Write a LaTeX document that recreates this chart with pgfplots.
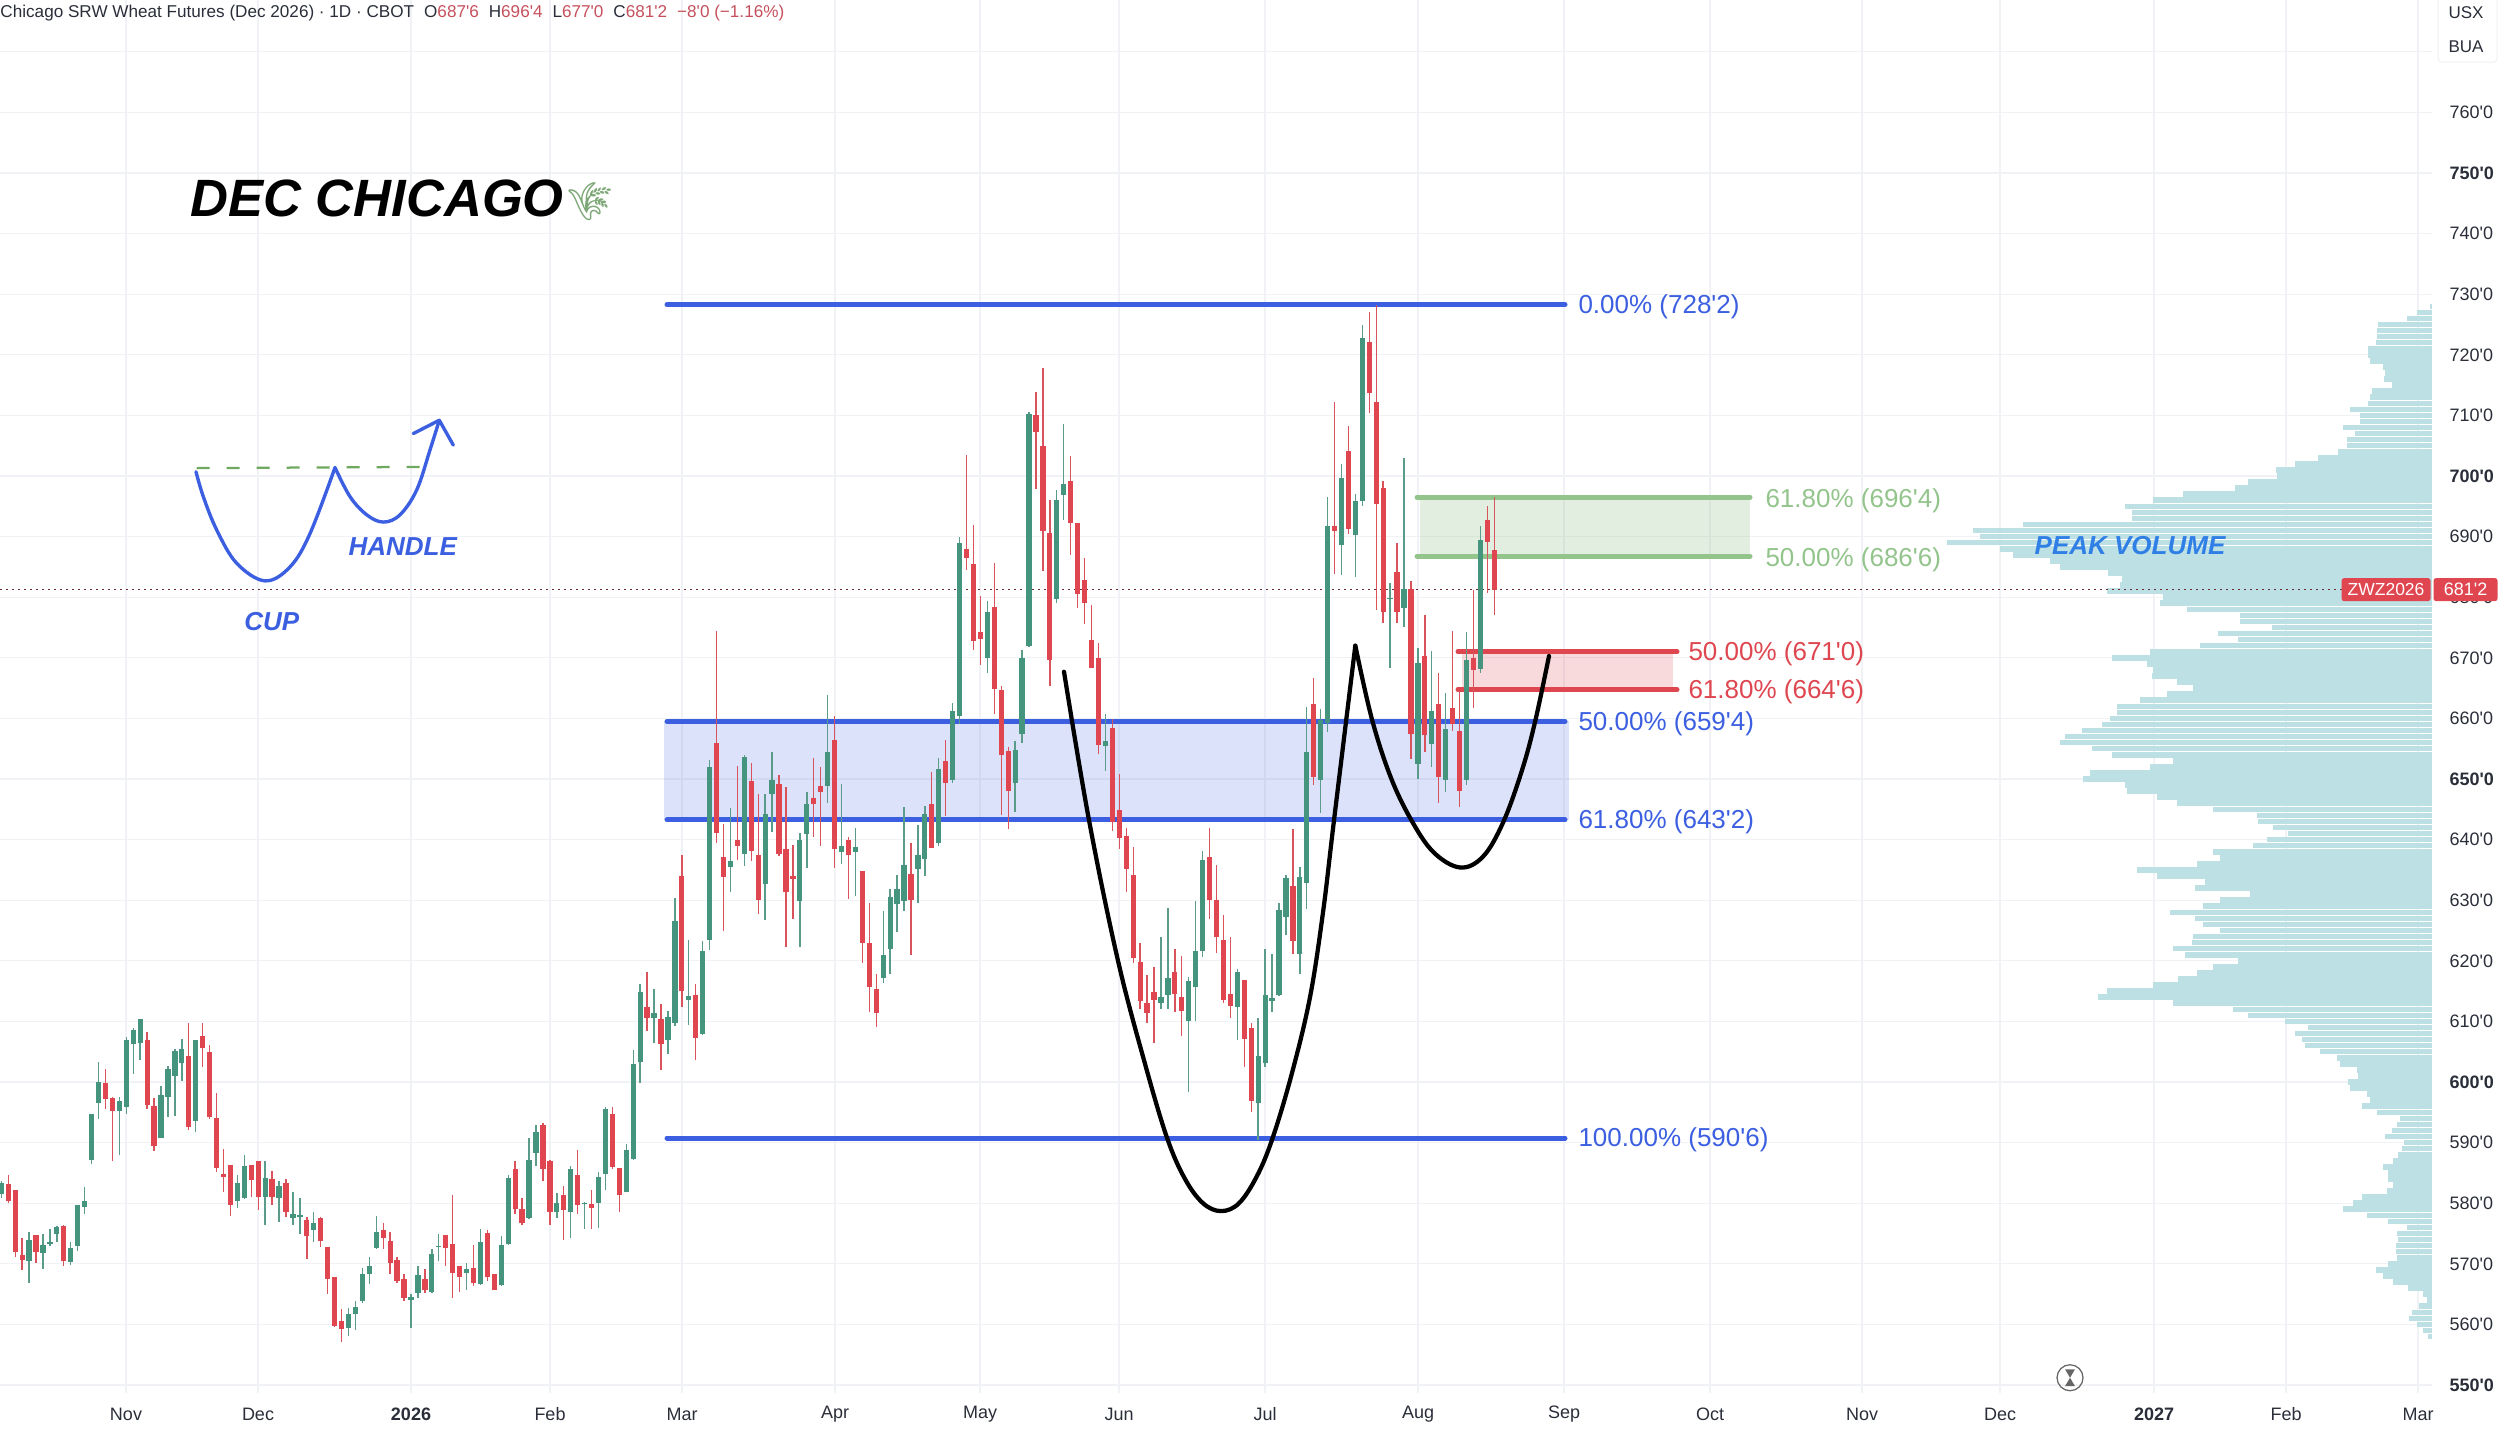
\documentclass[border=0pt]{standalone}
\usepackage{pgfplots}
\usepackage{pgfplotstable}
\usepackage{fontspec}
\pgfplotsset{compat=1.18}
\setmainfont{Liberation Sans}[Ligatures=TeXOff]
\newfontfamily\emojifont{Noto Emoji}
\definecolor{cgreen}{HTML}{45947D}
\definecolor{cred}{HTML}{E04650}
\definecolor{wgreen}{HTML}{5A9C89}
\definecolor{wred}{HTML}{D9535C}
\definecolor{fibblue}{HTML}{3B5FE0}
\definecolor{fibgreen}{HTML}{93C48C}
\definecolor{fibred}{HTML}{DE4650}
\definecolor{prof}{HTML}{BCE0E3}
\definecolor{gridc}{HTML}{F0F2F5}
\definecolor{txtc}{HTML}{2A2E39}
\definecolor{hdred}{HTML}{C6505C}
\definecolor{dashgreen}{HTML}{6FA85F}

\pgfplotstableread{
i hi top bot lo
0 583.7 583.4 581.6 580.8
4 575.3 573.9 570.4 566.9
6 575 573.1 571.8 569.2
7 575.8 573.6 573.3 572.9
8 576.2 576.1 575 573.6
10 573.6 572.6 570.3 569.8
11 579.7 579.7 572.9 572.1
12 582.6 580.3 579.3 578.2
13 594.8 594.8 587.2 586.4
14 603.3 600 596.5 593.9
17 597.5 596.8 595.2 587.9
18 607.5 606.9 595.8 594.7
19 608.9 608.6 606.2 601.4
20 610.4 610.4 606.5 603.6
23 599.4 597.8 590.7 590.7
24 602.6 602.1 597.5 594.2
25 605.4 605.2 601 594.4
26 607.1 605.4 603.2 600.1
28 606.9 606.9 593.6 591.8
34 584.6 583.4 580.4 579.2
35 587.9 586.1 580.8 580.7
38 586.9 584.2 581.1 576.4
40 583.6 582.8 580.8 576.9
42 581.8 578.2 577.5 576.4
43 580.8 578 577.8 574.9
45 578.5 576.8 575.6 573.6
50 562.7 561.8 559.4 558.1
51 563.8 562.8 561.8 559.1
52 569.3 568.3 563.8 563.6
53 571.1 569.7 568.3 566.7
54 577.9 575.3 572.6 572.5
59 565.1 564.6 564.1 559.4
60 569.6 568.1 565.2 564.4
62 572.5 571.6 565.3 565.2
63 575 573 572.8 570.4
67 570.1 569.1 568.5 565.7
69 575.7 573.6 566.7 566.6
72 574.6 573.1 566.5 566.4
73 584.6 584.1 573.2 573.1
76 590.8 587.1 577.5 577.4
77 592.9 591.8 588.3 586.2
80 581.7 580.1 578.5 577.5
82 586.1 585.7 578.5 574.3
84 580.2 580 579.8 575.8
86 585.1 584.3 580.1 575.9
87 595.8 595.6 584.8 582.1
90 589.7 588.8 581.8 581.8
91 605.3 602.9 587.3 587.2
92 616.1 614.9 603.3 599.9
94 615.3 611.4 610.6 606.4
96 611.7 610.7 606.9 604.7
97 630.4 626.6 609.8 609.2
99 623.4 614.2 613.6 609.4
101 623.2 621.7 607.9 607.8
102 653.1 651.9 623.5 621.8
105 645.2 636.4 635.5 631.4
107 654 653.7 637.6 635.7
110 647.6 644.2 632.7 626.7
111 654.4 649.9 647.6 641.2
115 641.1 639.9 629.9 622.2
116 647.9 645.9 640.9 635.3
119 663.9 654.4 648.9 646
121 649.2 639 637.9 635.9
123 641.9 638.7 637.9 630.7
127 628.2 620.9 617.1 616.4
128 631.8 630.5 621.9 617.9
129 634.2 631.9 629.4 624.7
130 645.4 635.8 629.9 628.3
132 642.4 637.4 635.2 629.6
133 645.6 644.3 636.8 634
135 653.4 651.6 639.4 638.9
137 662.6 661.2 649.8 649.4
138 690 689 660.4 659.1
142 679.4 677.5 669.9 667.5
146 656.3 654.8 649.3 644.6
147 671.3 669.9 657.4 655.9
148 710.6 710.2 672 671.8
152 697.7 696.1 679.7 679
153 708.6 698.6 696.9 692.7
159 660.7 656.3 655.4 651.4
167 624 614.1 613.1 612.1
168 628.7 617.2 614.4 612.1
171 617.4 616.6 610.1 598.4
172 629.9 621.7 615.6 610
173 638.1 636.6 621.7 620.7
178 618.6 618.1 612.3 607
181 610.6 604.3 596.6 590.5
182 621.9 614.3 603.2 602.5
183 621.1 613.9 613.3 611.5
184 629.6 628.4 614.3 614.2
185 634.2 633.6 627.2 624.2
187 635.4 633.9 621.1 617.9
188 661.9 654.4 632.8 628.5
190 661.6 659.7 649.9 644.4
191 696.6 691.8 659.3 657.7
193 701.9 699.7 688.6 683.6
195 697 695.9 690.3 683.3
196 725 722.7 695.9 695.1
200 682.4 679.9 679.7 668.4
202 703 681.4 678.2 675.1
204 671.6 669.1 652.5 650
206 671.1 661.2 655.8 652
208 664.2 658.2 649.9 647.8
211 674.2 669.7 649.9 649
213 691.8 689.4 668.1 667.5
}\greenbars

\pgfplotstableread{
i hi top bot lo
1 584.6 583.1 580.3 580.1
2 582.1 582.1 571.9 571.1
3 574.3 571.4 570.7 568.9
5 574.8 574.8 571.9 570.1
9 576.4 576.2 570.4 569.6
15 602.1 599.8 597.2 595.6
16 597.5 597.3 595.2 586.9
21 608.3 606.9 596.2 595.6
22 597.3 596.1 589.4 588.6
27 609.8 604.3 592.5 592.1
29 609.8 607.6 605.6 602.5
30 606.1 604.9 594.2 593.9
31 598.2 594.1 585.8 585.1
32 588.9 584.8 584.3 581.8
33 586.3 586.3 579.7 577.9
36 586.3 586.3 583.8 581.1
37 586.9 586.9 581.1 578.9
39 585.3 584 581.1 579.7
41 584 583.4 578.5 577.7
44 577.8 577.3 574.6 570.8
46 577.8 577.6 573.8 572.7
47 572.8 572.7 567.5 565.1
48 567.9 567.9 559.7 559.6
49 562.5 560.6 559.3 557.1
55 576.8 575.6 574.2 572.5
56 575.3 573.8 570.1 568.3
57 571.1 570.6 567.2 566.8
58 568.3 567.5 564.4 563.9
61 569.1 567.5 565.6 565.2
64 574.8 574.8 572.6 569.6
65 581.4 573.3 568.5 564.4
66 569.7 569.6 567.8 565.3
68 573.1 569.3 566.8 566.4
70 575.6 575.1 567.9 567.2
71 568.3 568.3 565.6 565.6
74 586.9 585.7 579 578.3
75 580.8 579.1 576.7 576.4
78 593.2 592.9 585.7 583.7
79 587.1 586.9 578.5 576.4
81 582.9 581.3 578.9 573.9
83 588.8 584.6 579.7 578.2
85 582.1 579.8 579.2 575.7
88 595.8 594.7 586 585.6
89 585.8 585.8 581.3 578.6
93 618.2 612.3 610.6 608.4
95 612.9 610.4 606.3 601.9
98 637.4 634 615.1 612.4
100 616.1 614.4 607.2 603.7
103 674.5 655.9 641.1 639.5
104 642.6 637.2 633.9 625
106 652.2 639.9 639 636.6
108 652.6 649.7 638.1 636.5
109 647.6 637.5 630 627.7
112 650.7 649.2 637.6 637.3
113 648.7 638.4 631.3 622.3
114 639.1 634 633.5 626.9
117 653.4 646.9 645.8 640.5
118 651.9 648.9 647.8 639
120 660.4 656.4 638.4 635.3
122 640.5 639.9 637.4 630.2
124 634.9 634.9 622.9 619.6
125 629.5 622.9 615.6 611.5
126 617.8 615.4 611.4 609
131 639.4 634.4 630.1 620.9
134 651.1 645.8 638.6 638.6
136 656.4 652.9 649.3 643.9
139 703.5 687.9 686.4 684.5
140 691.9 685.5 672.8 671.3
141 680.2 674.2 673.1 668.8
143 685.7 678.4 664.9 660.8
144 665.4 664.7 654 644.1
145 655.2 654.6 648.1 641.7
149 713.9 710 707.3 697.8
150 717.9 704.9 690.9 684.3
151 696.1 690.6 669.7 665.3
154 703.3 699.2 692.2 687
155 692.2 692.2 680.5 678.2
156 686.4 682.8 679 675.5
157 678.7 672.9 668.3 668.3
158 672.4 669.9 655.6 654.2
160 659.9 658.4 642.9 641.4
161 650.8 644.9 640.3 638.4
162 641.9 640.6 635.2 631.4
163 638.8 634.2 620.4 619.6
164 622.9 619.8 613.3 612.1
165 617.7 613.1 611.4 609.7
166 619 614.9 613.6 606.4
169 621.9 618.1 614.6 611.5
170 620.8 614.1 611.8 607.6
174 641.9 637.2 630.1 626.9
175 635.8 630.1 623.9 621.3
176 627.5 623.5 613.6 613.1
177 623.9 614.6 612.6 610.5
179 616.8 616.8 607.1 602.5
180 609.8 608.9 596.9 595.1
186 641.7 632.3 623.2 621.1
189 666.7 662.4 650.3 649
192 712.2 691.7 691 683.9
194 708.3 704.1 691.3 690.4
197 727 722.1 713.7 710.4
198 728.3 712.2 695.4 677.9
199 699.2 698 677.5 675.7
201 688.9 684.2 677.6 675.7
203 682.6 681.4 657.4 653.3
205 677.1 670.3 657.2 654.5
207 667.5 662.4 650.3 646
209 674.4 661.7 659 657.9
210 664.6 657.9 648.1 645.3
212 681.2 670 668 661.7
214 695 692.7 689.1 680.7
215 696.5 687.75 681.25 677
}\redbars

\pgfplotstableread{
p left
558 2428
559 2423
560 2417
561 2409
562 2412
563 2419
564 2427
565 2423
566 2408
567 2393
568 2383
569 2376
570 2388
571 2397
572 2396
573 2396
574 2398
575 2397
576 2407
577 2388
578 2367
579 2343
580 2353
581 2362
582 2387
583 2393
584 2388
585 2388
586 2383
587 2393
588 2398
589 2402
590 2404
591 2385
592 2392
593 2397
594 2400
595 2377
596 2362
597 2370
598 2367
599 2350
600 2348
601 2358
602 2357
603 2340
604 2337
605 2320
606 2305
607 2302
608 2295
609 2308
610 2285
611 2248
612 2233
613 2173
614 2098
615 2107
616 2153
617 2178
618 2197
619 2213
620 2238
621 2185
622 2173
623 2192
624 2193
625 2220
626 2203
627 2195
628 2170
629 2203
630 2220
631 2250
632 2195
633 2205
634 2157
635 2137
636 2197
637 2220
638 2213
639 2253
640 2267
641 2288
642 2273
643 2258
644 2257
645 2213
646 2177
647 2157
648 2127
649 2125
650 2083
651 2090
652 2150
653 2173
654 2112
655 2092
656 2060
657 2065
658 2082
659 2102
660 2110
661 2117
662 2117
663 2140
664 2167
665 2193
666 2177
667 2152
668 2153
669 2147
670 2112
671 2150
672 2200
673 2238
674 2218
675 2272
676 2240
677 2240
678 2187
679 2160
680 2163
681 2107
682 2120
683 2122
684 2108
685 2060
686 2050
687 2013
688 2000
689 1947
690 1980
691 1973
692 2023
693 2132
694 2132
695 2125
696 2153
697 2183
698 2235
699 2248
700 2277
701 2276
702 2295
703 2318
704 2338
705 2347
706 2347
707 2355
708 2343
709 2360
710 2360
711 2350
712 2368
713 2370
714 2372
715 2392
716 2384
717 2385
718 2383
719 2370
720 2368
721 2368
722 2376
723 2377
724 2377
725 2378
726 2407
727 2417
728 2430
}\profiletable

\pgfplotsset{nomark/.style={only marks,mark=*,mark size=0pt,mark options={draw=none,fill=none}}}
\newcommand{\candles}[3]{%
  \addplot[forget plot,nomark,
    error bars/.cd,y dir=both,y explicit,error mark=none,
    error bar style={line width=.55pt,color=#3}]
    table[x expr={1.3+6.944*\thisrow{i}},y=bot,
      y error plus expr={\thisrow{hi}-\thisrow{bot}},
      y error minus expr={\thisrow{bot}-\thisrow{lo}}] {#1};
  \addplot[forget plot,nomark,
    error bars/.cd,y dir=plus,y explicit,error mark=none,
    error bar style={line width=2.1pt,color=#2}]
    table[x expr={1.3+6.944*\thisrow{i}},y=bot,
      y error plus expr={\thisrow{top}-\thisrow{bot}}] {#1};
}

\begin{document}
\begin{tikzpicture}[x=1pt,y=1pt]
\path[use as bounding box] (0,0) rectangle (1000,571.2);
\begin{axis}[
  at={(0pt,14pt)},anchor=south west,scale only axis,
  width=972.68pt,height=557.2pt,
  xmin=0,xmax=2431.7,ymin=548.68,ymax=778.55,
  clip=false,
  axis line style={draw=none},
  major tick length=0pt,
  grid=major,
  grid style={color=gridc,line width=.5pt},
  xtick={126,258,411,550,682,835,980,1119,1265,1418,1564,1710,1862,2000,2154,2286,2418},
  xticklabels={Nov,Dec,\textbf{2026},Feb,Mar,Apr,May,Jun,Jul,Aug,Sep,Oct,Nov,Dec,\textbf{2027},Feb,Mar},
  ytick={550,560,570,580,590,600,610,620,630,640,650,660,670,680,690,700,710,720,730,740,750,760,770},
  yticklabels={\textbf{550'0},560'0,570'0,580'0,590'0,\textbf{600'0},610'0,620'0,630'0,640'0,\textbf{650'0},660'0,670'0,680'0,690'0,\textbf{700'0},710'0,720'0,730'0,740'0,\textbf{750'0},760'0,{}},
  ytick pos=right,yticklabel pos=right,
  xtick pos=bottom,
  tick label style={font=\fontsize{7.2}{8}\selectfont,text=txtc},
  yticklabel style={anchor=west,xshift=3.6pt},
  xticklabel style={anchor=center,yshift=-8.4pt},
]
% volume profile
\addplot[forget plot,nomark,
  error bars/.cd,x dir=minus,x explicit,error mark=none,
  error bar style={line width=2.22pt,color=prof}]
  table[x expr={2431.7},y=p,x error minus expr={2431.7-\thisrow{left}}] {\profiletable};
% zones
\addplot[forget plot,draw=none,fill=fibblue,fill opacity=.18] coordinates {(664,659.5)(1569,659.5)(1569,643.25)(664,643.25)} -- cycle;
\addplot[forget plot,draw=none,fill=fibgreen,fill opacity=.27] coordinates {(1420,696.5)(1750,696.5)(1750,686.75)(1420,686.75)} -- cycle;
\addplot[forget plot,draw=none,fill=fibred,fill opacity=.2] coordinates {(1462,671)(1673,671)(1673,664.75)(1462,664.75)} -- cycle;
% last price line
\addplot[forget plot,color=black!45!hdred,line width=.45pt,dash pattern=on .6pt off 1.8pt] coordinates {(0,681.25)(2342,681.25)};
% fib lines
\pgfplotsinvokeforeach{728.25,659.5,643.25,590.75}{
  \addplot[forget plot,color=fibblue,line width=2pt,line cap=round] coordinates {(667,#1)(1565,#1)};
}
\pgfplotsinvokeforeach{696.5,686.75}{
  \addplot[forget plot,color=fibgreen,line width=2pt,line cap=round] coordinates {(1417,#1)(1750,#1)};
}
\pgfplotsinvokeforeach{671,664.75}{
  \addplot[forget plot,color=fibred,line width=2pt,line cap=round] coordinates {(1458,#1)(1677,#1)};
}
% candles
\candles{\greenbars}{cgreen}{wgreen}
\candles{\redbars}{cred}{wred}
% cup and handle on the chart
\addplot[forget plot,color=black,line width=1.7pt,line cap=round,smooth,tension=.6] coordinates {
 (1064,667.7)(1089,643.2)(1118,620)(1145,603)(1167,590.8)(1185,584)(1203,580)(1221,578.7)(1239,580)(1257,584.5)(1272.7,590.8)(1292,601.5)(1310,614)(1323,628)(1334,643.2)(1355.3,672)};
\addplot[forget plot,color=black,line width=1.7pt,line cap=round,smooth,tension=.6] coordinates {
 (1355.3,672)(1371.7,660)(1390,650.6)(1410,643.6)(1433,638)(1460,635.4)(1483,637.2)(1503,642.8)(1521.7,651.3)(1535,659.4)(1549,670.3)};
% sketch
\addplot[forget plot,color=dashgreen,line width=.9pt,dash pattern=on 5.2pt off 6.8pt] coordinates {(196.7,701.3)(420,701.5)};
\addplot[forget plot,color=fibblue,line width=1.35pt,line cap=round,smooth,tension=.6] coordinates {
 (196,700.7)(203.3,696.6)(216.7,691.1)(236.7,685.6)(265,682.7)(290,685)(310,690.5)(335,701.4)};
\addplot[forget plot,color=fibblue,line width=1.35pt,line cap=round,smooth,tension=.6] coordinates {
 (335,701.4)(350,696.6)(366.7,693.6)(383.3,692.4)(400,693.6)(416.7,697.7)(430,704.3)(439.3,709.2)};
\addplot[forget plot,color=fibblue,line width=1.35pt,line cap=round,line join=round] coordinates {(413.3,707)(439.3,709.2)(453.3,705.1)};
% hourglass
\draw[color=black!60,line width=.5pt] (axis cs:2070,551.2) circle[radius=5.2pt];
\fill[color=black!60] (axis cs:2065,552.6)--(axis cs:2075,552.6)--(axis cs:2065,549.8)--(axis cs:2075,549.8)--cycle;
% labels
\tikzset{fiblab/.style={anchor=west,inner sep=0pt,yshift=-.8pt,font=\fontsize{10.4}{12}\selectfont}}
\node[fiblab,text=fibblue] at (axis cs:1578,728.25) {0.00\% (728'2)};
\node[fiblab,text=fibblue] at (axis cs:1578,659.5) {50.00\% (659'4)};
\node[fiblab,text=fibblue] at (axis cs:1578,643.25) {61.80\% (643'2)};
\node[fiblab,text=fibblue] at (axis cs:1578,590.75) {100.00\% (590'6)};
\node[fiblab,text=fibgreen,yshift=-.6pt] at (axis cs:1765,696.5) {61.80\% (696'4)};
\node[fiblab,text=fibgreen,yshift=-.6pt] at (axis cs:1765,686.75) {50.00\% (686'6)};
\node[fiblab,text=fibred] at (axis cs:1688,671) {50.00\% (671'0)};
\node[fiblab,text=fibred] at (axis cs:1688,664.75) {61.80\% (664'6)};
\node[anchor=base west,inner sep=0pt,font=\fontsize{21}{24}\selectfont\bfseries\itshape] at (axis cs:190,742.8) {DEC CHICAGO};
\node[anchor=center,inner sep=0pt,font=\fontsize{15}{18}\selectfont\emojifont,text=fibgreen!85!black] at (axis cs:590,745.2) {^^^^^^01f33e};
\node[inner sep=0pt,text=fibblue,font=\fontsize{10.4}{12}\selectfont\bfseries\itshape] at (axis cs:271.7,676) {CUP};
\node[inner sep=0pt,text=fibblue,font=\fontsize{10.4}{12}\selectfont\bfseries\itshape] at (axis cs:402.7,688.3) {HANDLE};
\node[inner sep=0pt,text=fibblue!80!cyan,font=\fontsize{10.4}{12}\selectfont\bfseries\itshape] at (axis cs:2130,688.6) {PEAK VOLUME};
% header
\node[anchor=west,inner sep=0pt,font=\fontsize{6.85}{8}\selectfont,text=txtc] at (axis cs:0,776.4) {Chicago SRW Wheat Futures (Dec 2026) · 1D · CBOT\hspace{4pt}O\textcolor{hdred}{687'6}\hspace{4pt}H\textcolor{hdred}{696'4}\hspace{4pt}L\textcolor{hdred}{677'0}\hspace{4pt}C\textcolor{hdred}{681'2}\hspace{4pt}\textcolor{hdred}{−8'0 (−1.16\%)}};
% unit box
\fill[white,rounded corners=1.5pt,draw=black!6,line width=.4pt] (axis cs:2438,790) rectangle (axis cs:2497,768.3);
\node[font=\fontsize{6.8}{8}\selectfont,text=txtc,inner sep=0pt] at (axis cs:2466,776.4) {USX};
\node[font=\fontsize{6.8}{8}\selectfont,text=txtc,inner sep=0pt] at (axis cs:2466,770.8) {BUA};
% price tags
\node[anchor=east,fill=cred,text=white,inner sep=0pt,minimum height=9.2pt,minimum width=35.6pt,rounded corners=1pt,font=\fontsize{7}{8}\selectfont] at (axis cs:2431,681.25) {ZWZ2026};
\node[anchor=west,fill=cred,text=white,inner sep=0pt,minimum height=9.2pt,minimum width=25.6pt,rounded corners=1pt,font=\fontsize{7.2}{8}\selectfont] at (axis cs:2433,681.25) {681'2};
\end{axis}
\end{tikzpicture}
\end{document}
